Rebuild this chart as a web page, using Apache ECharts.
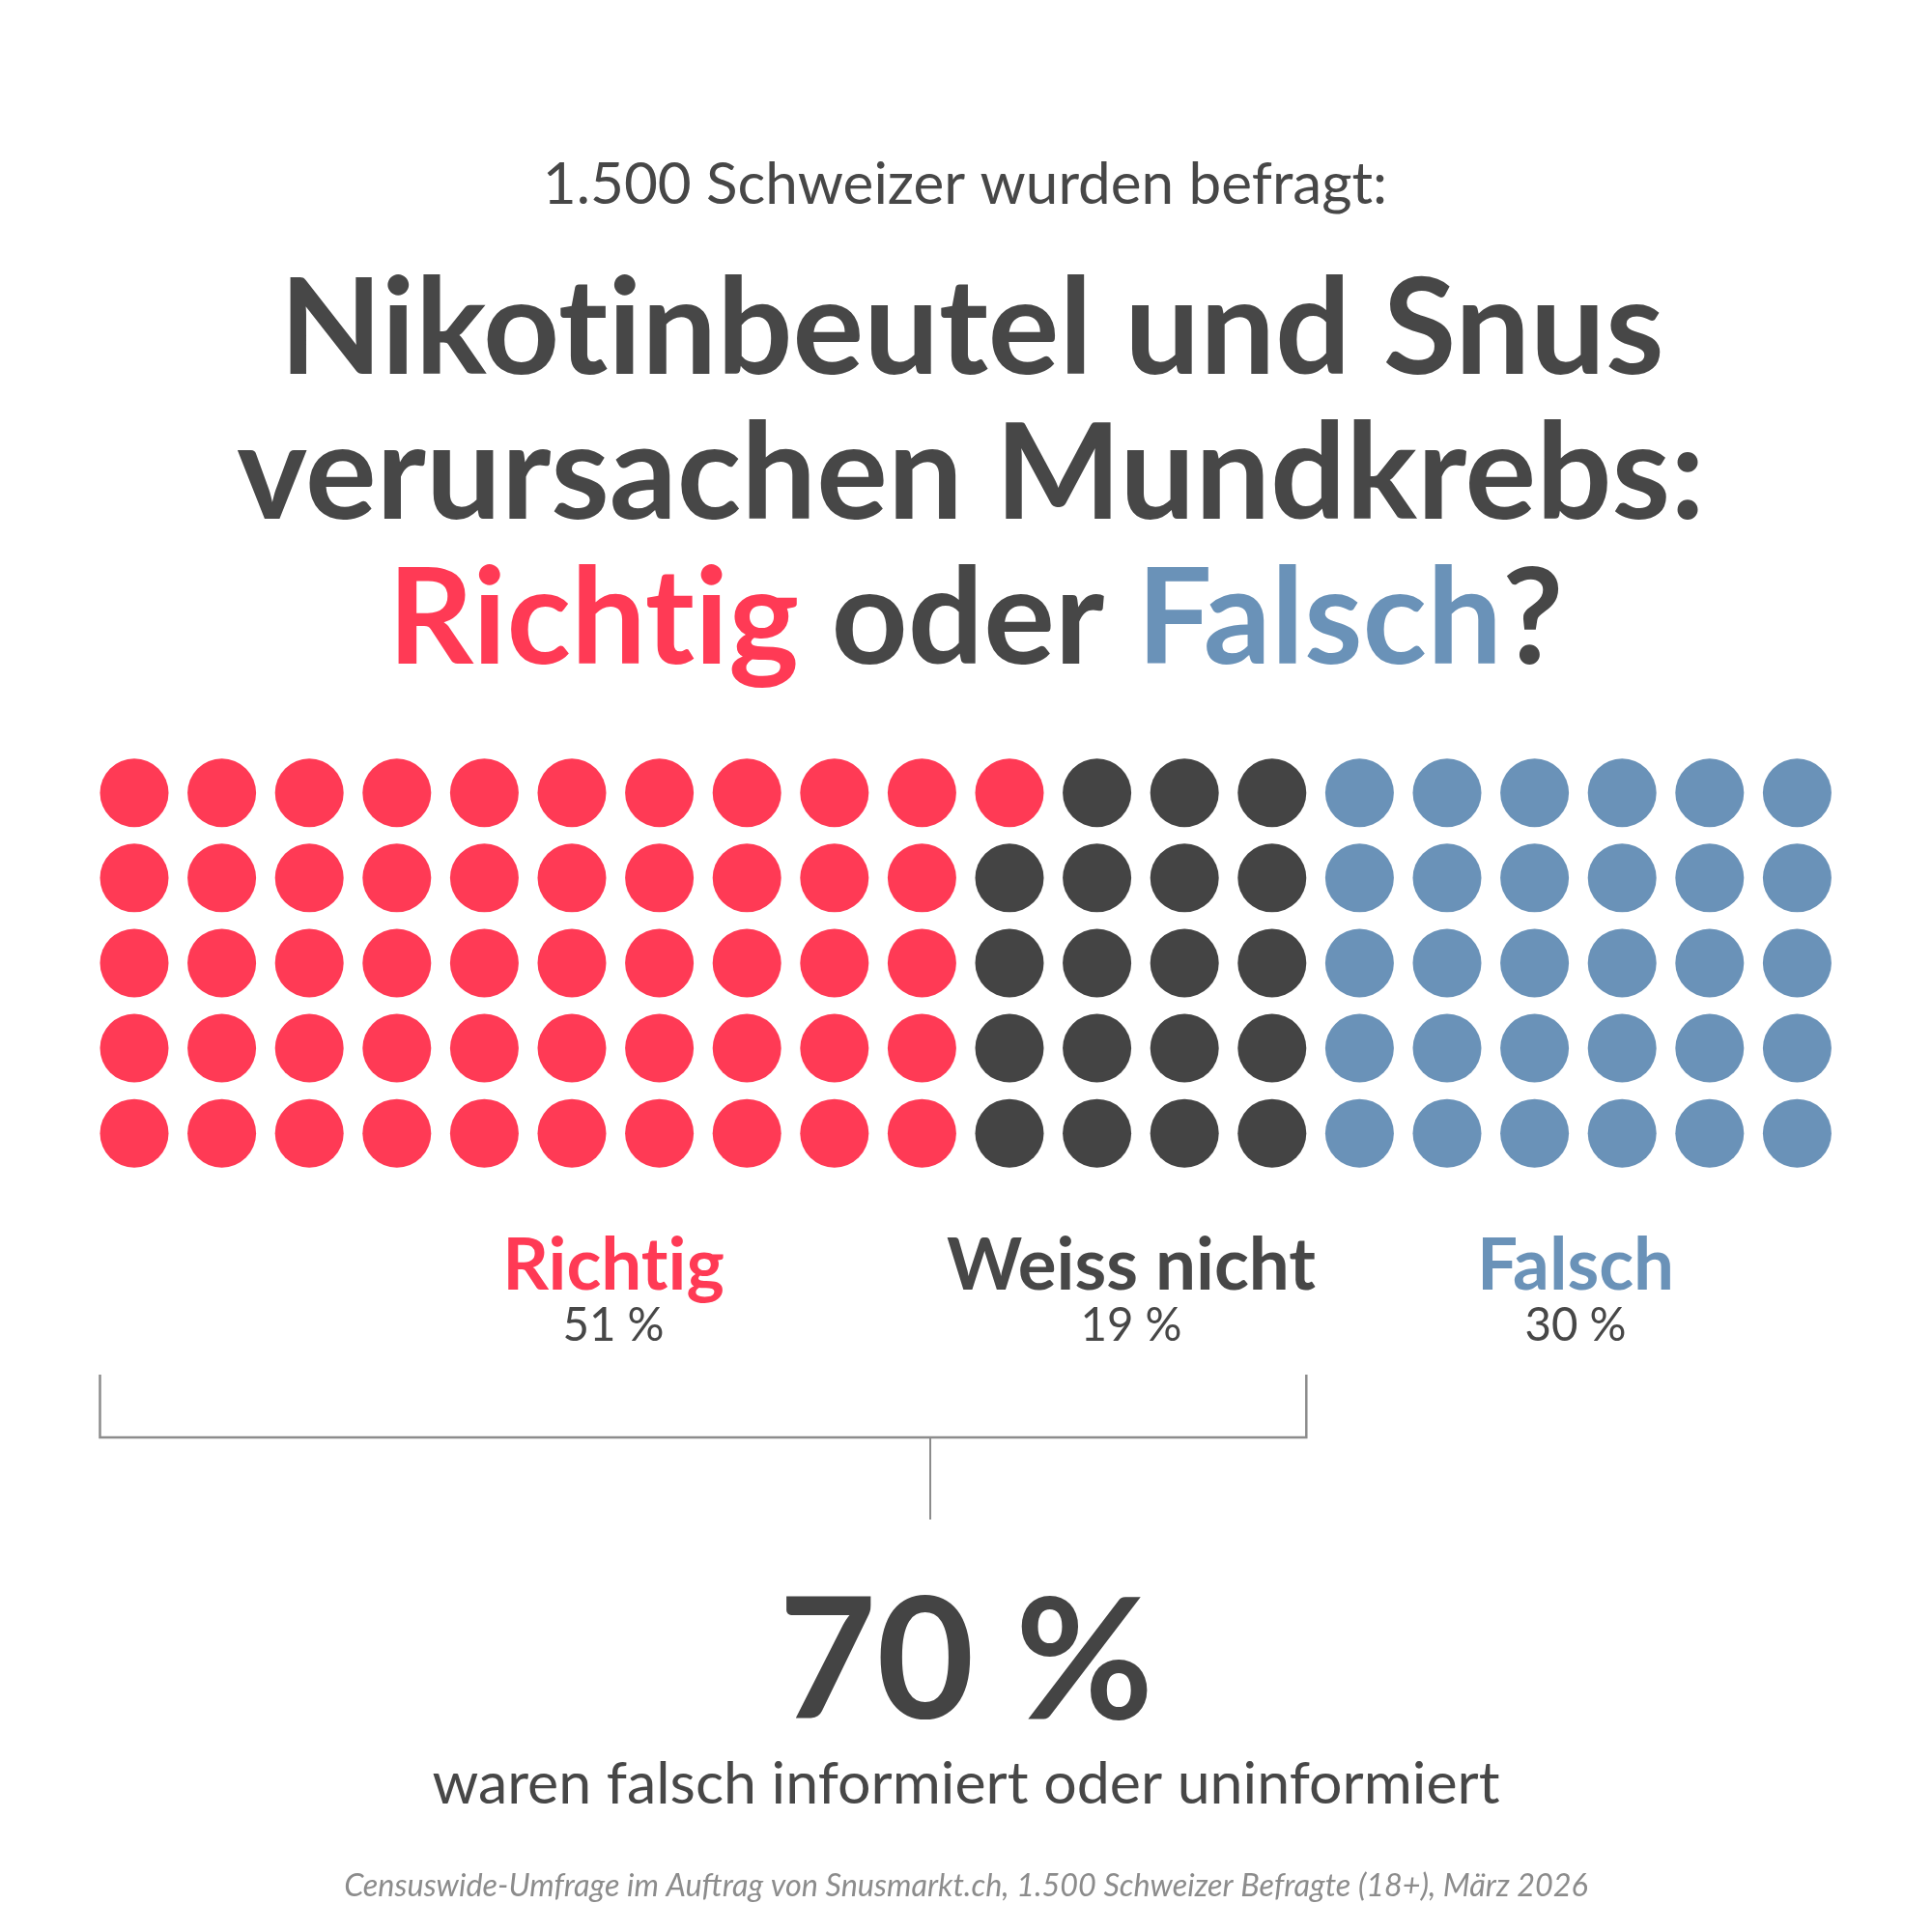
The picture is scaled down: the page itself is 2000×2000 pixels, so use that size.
<!DOCTYPE html>
<html>
<head>
<meta charset="utf-8">
<script src="https://cdn.jsdelivr.net/npm/echarts@6/dist/echarts.min.js"></script>
<style>
html, body { margin: 0; padding: 0; background: #fff; }
#chart { width: 2000px; height: 2000px; }
</style>
</head>
<body>
<div id="chart"></div>
<script>
// survey answers, one dot per percent
var answers = ['Richtig', 'Weiss nicht', 'Falsch'];
var shares = [51, 19, 30];
var colors = ['#ff3a55', '#444444', '#6a92b8'];
var rowsPerColumn = 5;

var subtitle = '1.500 Schweizer wurden befragt:';
var titleLines = ['Nikotinbeutel und Snus', 'verursachen Mundkrebs:'];
var summaryText = 'waren falsch informiert oder uninformiert';
var sourceNote = 'Censuswide-Umfrage im Auftrag von Snusmarkt.ch, 1.500 Schweizer Befragte (18+), März 2026';

var chart = echarts.init(document.getElementById('chart'));
var FONT = 'Lato';
var DARK = '#474747';
var DOT = 71;

var measure = document.createElement('canvas').getContext('2d');
function fit(text, weight, width, style) {
    measure.font = (style || 'normal') + ' ' + weight + ' 100px ' + FONT;
    return Math.round(1000 * width / measure.measureText(text).width) / 10;
}
// Lato joins "ti" into a ligature, the original font does not: break the run there
function noLig(text, key) {
    return '{' + key + '|' + text.replace(/t(?=i)/g, 't}{' + key + '|') + '}';
}
function richStyle(color, size, weight) {
    return { fill: color, fontFamily: FONT, fontSize: size, fontWeight: weight };
}
function textEl(text, x, baseline, size, weight, color, extra) {
    var st = {
        text: text, fontFamily: FONT, fontSize: size, fontWeight: weight,
        fill: color, align: 'center', verticalAlign: 'middle'
    };
    for (var k in extra || {}) st[k] = extra[k];
    return { type: 'text', x: x, y: baseline - size * 0.30, silent: true, style: st };
}

// dots fill column by column, top to bottom
var total = shares.reduce(function (a, b) { return a + b; }, 0);
var columns = Math.ceil(total / rowsPerColumn);
var series = [];
var idx = 0;
for (var i = 0; i < answers.length; i++) {
    var data = [];
    for (var k = 0; k < shares[i]; k++, idx++)
        data.push([Math.floor(idx / rowsPerColumn), idx % rowsPerColumn]);
    series.push({
        name: answers[i],
        type: 'scatter',
        symbol: 'circle',
        symbolSize: DOT,
        silent: true,
        itemStyle: { color: colors[i], opacity: 1 },
        data: data
    });
}

chart.setOption({
    backgroundColor: '#ffffff',
    animation: false,
    grid: { left: 93.7, top: 776.7, width: 1812, height: 440.5 },
    xAxis: { type: 'value', min: -0.5, max: columns - 0.5, show: false },
    yAxis: { type: 'value', min: -0.5, max: rowsPerColumn - 0.5, inverse: true, show: false },
    series: series
});

// headline
var headSize = fit(titleLines[1], 'bold', 1520);
var subSize = fit(subtitle, 'normal', 875);
var headRich = {
    r: richStyle(colors[0], headSize, 'bold'),
    d: richStyle(DARK, headSize, 'bold'),
    b: richStyle(colors[2], headSize, 'bold')
};
var graphic = [
    textEl(subtitle, 999, 210, subSize, 'normal', DARK),
    textEl(noLig(titleLines[0], 'd'), 1006, 384, headSize, 'bold', DARK, { rich: headRich }),
    textEl(titleLines[1], 1005, 534, headSize, 'bold', DARK),
    textEl(noLig(answers[0], 'r') + ' {d|oder} ' + noLig(answers[2], 'b') + '{d|?}', 1010, 684, headSize, 'bold', DARK, { rich: headRich })
];

// answer labels under the dots
var labelX = [635, 1171, 1631];
var labelSize = fit(answers[1], 'bold', 382);
var pctSize = fit(shares[2] + ' %', 'normal', 105);
for (var i = 0; i < answers.length; i++) {
    var c = i === 1 ? DARK : colors[i];
    graphic.push(textEl(noLig(answers[i], 'l'), labelX[i], 1333, labelSize, 'bold', c,
        { rich: { l: richStyle(c, labelSize, 'bold') } }));
    graphic.push(textEl(shares[i] + ' %', labelX[i], 1387, pctSize, 'normal', DARK));
}

// bracket over "Richtig" + "Weiss nicht"
var wrongShare = shares[0] + shares[1];
var lastCol = Math.floor((wrongShare - 1) / rowsPerColumn);
var xl = chart.convertToPixel({ gridIndex: 0 }, [0, 0])[0] - DOT / 2;
var xr = chart.convertToPixel({ gridIndex: 0 }, [lastCol, 0])[0] + DOT / 2;
graphic.push({
    type: 'polyline', silent: true,
    shape: { points: [[xl, 1423], [xl, 1488], [xr, 1488], [xr, 1423]] },
    style: { stroke: '#8c8c8c', lineWidth: 2.5, fill: null }
});
graphic.push({
    type: 'line', silent: true,
    shape: { x1: 963, y1: 1488, x2: 963, y2: 1573 },
    style: { stroke: '#8c8c8c', lineWidth: 2 }
});

// summary
graphic.push(textEl(wrongShare + ' %', 1000, 1775, fit(wrongShare + ' %', 'bold', 388), 'bold', '#444444'));
graphic.push(textEl(summaryText, 1000, 1866, fit(summaryText, 'normal', 1105), 'normal', DARK));
graphic.push(textEl(sourceNote, 1000, 1962, fit(sourceNote, 'normal', 1290, 'italic'), 'normal', '#8c8c8c', { fontStyle: 'italic' }));

chart.setOption({ graphic: graphic });
</script>
</body>
</html>
